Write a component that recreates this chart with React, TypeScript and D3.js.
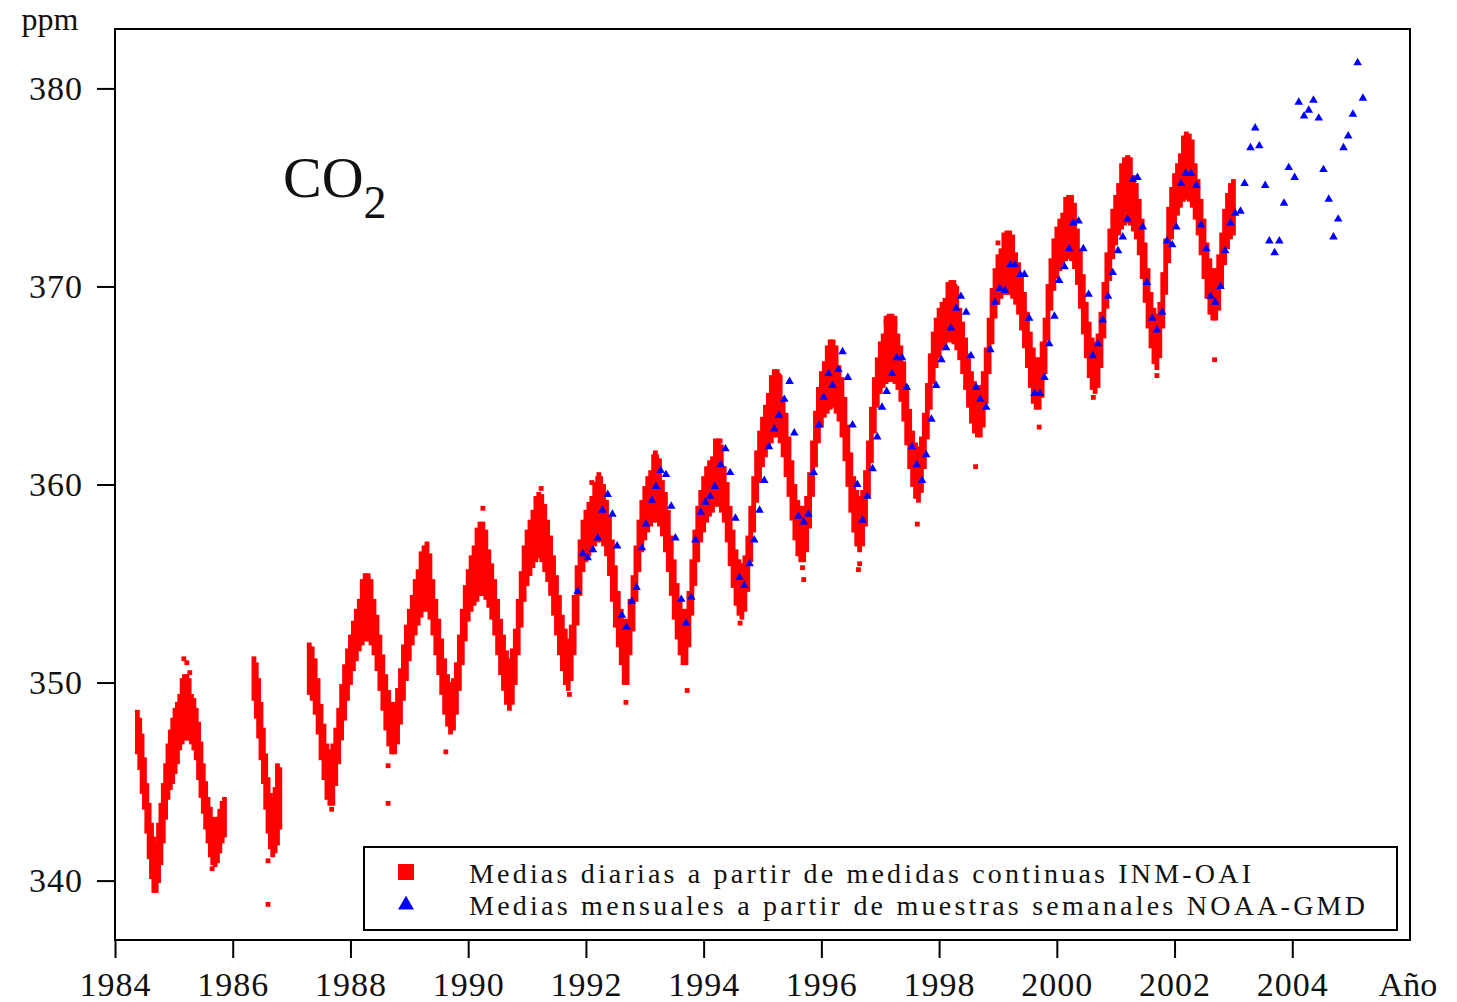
import { useEffect, useRef } from "react";
import * as d3 from "d3";

// daily means INM-OAI: [year, low, high] of the daily scatter around each date
const daily1984 = [
  [1984.38, 346.5, 348.5], [1984.42, 345.7, 348.1], [1984.46, 344.5, 347.3], [1984.50, 343.7, 346.1],
  [1984.54, 342.5, 344.8], [1984.58, 341.2, 343.8], [1984.62, 340.2, 342.8], [1984.66, 339.5, 342.1],
  [1984.70, 339.5, 341.8], [1984.74, 340.0, 342.8], [1984.78, 340.9, 343.8], [1984.82, 342.0, 344.8],
  [1984.86, 343.2, 345.8], [1984.90, 344.2, 346.8], [1984.94, 344.7, 347.5], [1984.98, 345.0, 348.1],
  [1985.02, 345.5, 348.6], [1985.06, 346.0, 348.9], [1985.10, 346.7, 349.3], [1985.14, 347.0, 350.1],
  [1985.18, 347.2, 350.3], [1985.22, 347.2, 350.3], [1985.26, 347.2, 350.1], [1985.30, 347.0, 349.3],
  [1985.34, 346.7, 349.1], [1985.38, 346.2, 348.6], [1985.42, 345.2, 347.9], [1985.46, 344.3, 346.9],
  [1985.50, 343.5, 345.8], [1985.54, 342.7, 344.9], [1985.58, 342.0, 344.1], [1985.62, 341.3, 343.6],
  [1985.66, 340.9, 343.1], [1985.70, 340.8, 342.9], [1985.74, 341.0, 343.1], [1985.78, 341.5, 343.5],
  [1985.82, 342.0, 343.9], [1985.86, 342.3, 344.1],
];

const daily1986 = [
  [1986.36, 349.2, 351.2], [1986.40, 348.3, 350.9], [1986.44, 347.3, 350.1], [1986.48, 346.2, 348.9],
  [1986.52, 345.0, 347.6], [1986.56, 343.7, 346.3], [1986.60, 342.5, 345.1], [1986.64, 341.7, 344.3],
  [1986.68, 341.3, 344.1], [1986.72, 341.5, 344.6], [1986.76, 341.9, 345.8], [1986.80, 342.7, 345.6],
];

const daily1987 = [
  [1987.30, 349.5, 351.9], [1987.35, 349.2, 351.7], [1987.40, 348.5, 351.1], [1987.45, 347.5, 350.1],
  [1987.50, 346.2, 348.8], [1987.55, 345.2, 347.8], [1987.60, 344.2, 346.8], [1987.65, 343.9, 346.5],
  [1987.70, 344.1, 346.8], [1987.75, 344.9, 347.6], [1987.80, 346.0, 348.6], [1987.85, 347.2, 349.8],
  [1987.90, 348.2, 350.8], [1987.95, 349.2, 351.6], [1988.00, 350.0, 352.3], [1988.05, 350.7, 353.0],
  [1988.10, 351.2, 353.6], [1988.15, 351.7, 354.1], [1988.20, 352.0, 355.1], [1988.25, 352.2, 355.4],
  [1988.30, 352.2, 355.4], [1988.35, 352.0, 355.1], [1988.40, 351.5, 354.1], [1988.45, 350.7, 353.3],
  [1988.50, 349.7, 352.3], [1988.55, 348.7, 351.3], [1988.60, 347.7, 350.3], [1988.65, 346.9, 349.5],
  [1988.70, 346.5, 348.9], [1988.75, 346.5, 348.9], [1988.80, 347.0, 349.6], [1988.85, 348.0, 350.6],
  [1988.90, 349.2, 351.8], [1988.95, 350.2, 352.8], [1989.00, 351.2, 353.6], [1989.05, 352.0, 354.3],
  [1989.10, 352.5, 355.1], [1989.15, 353.0, 355.6], [1989.20, 353.4, 356.5], [1989.25, 353.7, 356.8],
  [1989.30, 353.7, 356.8], [1989.35, 353.3, 356.4], [1989.40, 352.5, 355.1], [1989.45, 351.5, 354.1],
  [1989.50, 350.5, 353.1], [1989.55, 349.5, 352.1], [1989.60, 348.5, 351.1], [1989.65, 347.9, 350.3],
  [1989.70, 347.5, 349.9], [1989.75, 347.7, 350.1], [1989.80, 348.5, 350.9], [1989.85, 349.7, 352.3],
  [1989.90, 351.0, 353.6], [1989.95, 352.2, 354.8],
];

const daily1990 = [
  [1990.00, 353.2, 355.6], [1990.05, 353.7, 356.3], [1990.10, 354.0, 356.8], [1990.15, 354.2, 357.7],
  [1990.20, 354.5, 358.0], [1990.25, 354.5, 358.0], [1990.30, 354.3, 357.6], [1990.35, 353.9, 356.6],
  [1990.40, 353.3, 355.9], [1990.45, 352.5, 355.1], [1990.50, 351.5, 354.1], [1990.55, 350.5, 353.1],
  [1990.60, 349.7, 352.3], [1990.65, 349.0, 351.5], [1990.70, 348.7, 351.1], [1990.75, 349.0, 351.6],
  [1990.80, 350.0, 352.6], [1990.85, 351.5, 354.1], [1990.90, 352.9, 355.5], [1990.95, 354.2, 356.8],
  [1991.00, 355.0, 357.6], [1991.05, 355.5, 358.1], [1991.10, 355.9, 358.6], [1991.15, 356.2, 359.3],
  [1991.20, 356.4, 359.5], [1991.25, 356.2, 359.4], [1991.30, 355.7, 358.9], [1991.35, 355.2, 358.1],
  [1991.40, 354.5, 357.3], [1991.45, 353.5, 356.3], [1991.50, 352.5, 355.3], [1991.55, 351.5, 354.3],
  [1991.60, 350.7, 353.3], [1991.65, 350.0, 352.6], [1991.70, 349.7, 352.1], [1991.75, 350.2, 352.8],
  [1991.80, 351.5, 354.3], [1991.85, 353.0, 355.8], [1991.90, 354.5, 357.1], [1991.95, 355.7, 358.1],
  [1992.00, 356.2, 358.6], [1992.05, 356.5, 359.0], [1992.10, 356.7, 359.3], [1992.15, 357.0, 360.0],
  [1992.20, 357.2, 360.3], [1992.25, 357.2, 360.3], [1992.30, 357.0, 359.9], [1992.35, 356.5, 359.1],
  [1992.40, 355.5, 358.3], [1992.45, 354.2, 357.1], [1992.50, 352.9, 355.8], [1992.55, 351.9, 354.5],
  [1992.60, 351.0, 353.6], [1992.65, 350.0, 353.1], [1992.70, 350.0, 353.1], [1992.75, 351.5, 354.1],
  [1992.80, 352.7, 355.3], [1992.85, 354.2, 356.8], [1992.90, 355.7, 358.1], [1992.95, 356.7, 359.1],
];

const daily1993 = [
  [1993.00, 357.3, 359.8], [1993.05, 357.7, 360.3], [1993.10, 358.0, 360.6], [1993.15, 358.2, 361.4],
  [1993.20, 358.2, 361.4], [1993.25, 358.0, 361.2], [1993.30, 357.5, 360.1], [1993.35, 356.7, 359.5],
  [1993.40, 355.7, 358.6], [1993.45, 354.5, 357.3], [1993.50, 353.3, 356.1], [1993.55, 352.3, 354.9],
  [1993.60, 351.5, 354.1], [1993.65, 351.0, 353.6], [1993.70, 351.0, 353.6], [1993.75, 351.9, 354.5],
  [1993.80, 353.5, 356.1], [1993.85, 355.0, 357.6], [1993.90, 356.2, 358.8], [1993.95, 357.2, 359.6],
  [1994.00, 357.7, 360.3], [1994.05, 358.2, 360.8], [1994.10, 358.5, 361.1], [1994.15, 358.7, 361.3],
  [1994.20, 359.0, 362.2], [1994.25, 359.0, 362.2], [1994.30, 358.7, 361.9], [1994.35, 358.2, 360.8],
  [1994.40, 357.2, 360.0], [1994.45, 356.0, 358.8], [1994.50, 354.9, 357.6], [1994.55, 354.0, 356.6],
  [1994.60, 353.5, 356.1], [1994.65, 353.3, 355.9], [1994.70, 353.7, 356.3], [1994.75, 354.7, 357.3],
  [1994.80, 356.2, 358.8], [1994.85, 357.7, 360.3], [1994.90, 359.2, 361.6], [1994.95, 360.2, 362.6],
  [1995.00, 361.0, 363.3], [1995.05, 361.5, 363.9], [1995.10, 361.9, 364.5], [1995.15, 362.2, 365.4],
  [1995.20, 362.5, 365.7], [1995.25, 362.5, 365.7], [1995.30, 362.2, 365.4], [1995.35, 361.5, 364.3],
  [1995.40, 360.5, 363.5], [1995.45, 359.5, 362.3], [1995.50, 358.3, 361.1], [1995.55, 357.3, 359.9],
  [1995.60, 356.5, 359.1], [1995.65, 356.2, 358.8], [1995.70, 356.2, 358.8], [1995.75, 356.7, 359.3],
  [1995.80, 357.9, 360.5], [1995.85, 359.5, 362.1], [1995.90, 361.0, 363.6], [1995.95, 362.2, 364.8],
];

const daily1996 = [
  [1996.00, 363.0, 365.6], [1996.05, 363.5, 366.1], [1996.10, 363.7, 366.9], [1996.15, 363.9, 367.2],
  [1996.20, 364.0, 367.2], [1996.25, 363.7, 366.9], [1996.30, 363.3, 365.9], [1996.35, 362.5, 365.3],
  [1996.40, 361.3, 364.3], [1996.45, 360.0, 362.9], [1996.50, 358.7, 361.5], [1996.55, 357.7, 360.3],
  [1996.60, 357.0, 359.6], [1996.65, 356.7, 359.3], [1996.70, 357.0, 359.6], [1996.75, 358.0, 360.6],
  [1996.80, 359.5, 362.1], [1996.85, 361.2, 363.8], [1996.90, 362.7, 365.3], [1996.95, 364.0, 366.3],
  [1997.00, 364.7, 367.1], [1997.05, 365.0, 367.5], [1997.10, 365.2, 368.4], [1997.15, 365.3, 368.5],
  [1997.20, 365.3, 368.5], [1997.25, 365.2, 368.4], [1997.30, 364.9, 367.5], [1997.35, 364.3, 366.9],
  [1997.40, 363.3, 366.1], [1997.45, 362.1, 364.9], [1997.50, 360.9, 363.7], [1997.55, 360.0, 362.6],
  [1997.60, 359.4, 362.0], [1997.65, 359.2, 361.8], [1997.70, 359.7, 362.3], [1997.75, 360.9, 363.5],
  [1997.80, 362.4, 365.0], [1997.85, 363.9, 366.5], [1997.90, 365.2, 367.6], [1997.95, 366.0, 368.3],
  [1998.00, 366.5, 368.8], [1998.05, 366.9, 369.1], [1998.10, 367.1, 369.3], [1998.15, 367.3, 370.1],
  [1998.20, 367.3, 370.2], [1998.25, 367.2, 370.2], [1998.30, 366.9, 369.9], [1998.35, 366.4, 368.8],
  [1998.40, 365.7, 368.1], [1998.45, 364.9, 367.3], [1998.50, 364.0, 366.5], [1998.55, 363.2, 365.6],
  [1998.60, 362.7, 365.1], [1998.65, 362.5, 364.9], [1998.70, 362.5, 364.9], [1998.75, 363.0, 365.6],
  [1998.80, 364.2, 366.8], [1998.85, 365.7, 368.3], [1998.90, 367.2, 369.8], [1998.95, 368.5, 370.8],
];

const daily1999 = [
  [1999.00, 369.2, 371.5], [1999.05, 369.5, 371.8], [1999.10, 369.7, 372.6], [1999.15, 369.7, 372.7],
  [1999.20, 369.7, 372.7], [1999.25, 369.5, 372.5], [1999.30, 369.2, 371.6], [1999.35, 368.7, 371.1],
  [1999.40, 367.9, 370.5], [1999.45, 367.0, 369.6], [1999.50, 366.0, 368.6], [1999.55, 365.0, 367.6],
  [1999.60, 364.2, 366.8], [1999.65, 363.9, 366.3], [1999.70, 363.9, 366.3], [1999.75, 364.5, 367.1],
  [1999.80, 365.7, 368.3], [1999.85, 367.4, 370.0], [1999.90, 368.9, 371.3], [1999.95, 369.9, 372.3],
  [2000.00, 370.5, 372.9], [2000.05, 370.9, 373.3], [2000.10, 371.2, 373.6], [2000.15, 371.4, 374.4],
  [2000.20, 371.5, 374.5], [2000.25, 371.4, 374.5], [2000.30, 371.0, 374.1], [2000.35, 370.2, 372.8],
  [2000.40, 369.0, 371.8], [2000.45, 367.7, 370.5], [2000.50, 366.5, 369.1], [2000.55, 365.5, 368.1],
  [2000.60, 364.9, 367.3], [2000.65, 364.7, 367.1], [2000.70, 365.0, 367.5], [2000.75, 366.0, 368.6],
  [2000.80, 367.5, 370.1], [2000.85, 369.0, 371.6], [2000.90, 370.4, 372.8], [2000.95, 371.5, 373.8],
  [2001.00, 372.2, 374.5], [2001.05, 372.7, 375.1], [2001.10, 373.0, 376.1], [2001.15, 373.2, 376.4],
  [2001.20, 373.3, 376.5], [2001.25, 373.2, 376.4], [2001.30, 372.9, 375.5], [2001.35, 372.5, 375.1],
  [2001.40, 371.7, 374.3], [2001.45, 370.5, 373.3], [2001.50, 369.3, 372.1], [2001.55, 368.0, 370.8],
  [2001.60, 367.0, 369.6], [2001.65, 366.2, 368.8], [2001.70, 365.9, 368.5], [2001.75, 366.5, 369.1],
  [2001.80, 368.0, 370.6], [2001.85, 369.7, 372.3], [2001.90, 371.3, 373.9], [2001.95, 372.5, 374.9],
  [2002.00, 373.2, 375.6], [2002.05, 373.7, 376.1], [2002.10, 374.1, 376.6], [2002.15, 374.4, 377.5],
  [2002.20, 374.5, 377.7], [2002.25, 374.4, 377.6], [2002.30, 374.1, 377.3], [2002.35, 373.5, 376.1],
  [2002.40, 372.7, 375.3], [2002.45, 371.7, 374.3], [2002.50, 370.5, 373.3], [2002.55, 369.5, 372.1],
  [2002.60, 368.7, 371.3], [2002.65, 368.4, 370.8], [2002.70, 368.4, 370.8], [2002.75, 368.9, 371.5],
  [2002.80, 370.0, 372.6], [2002.85, 371.2, 373.8], [2002.90, 372.0, 374.6], [2002.95, 372.5, 375.1],
  [2003.00, 372.7, 375.3],
];

// isolated daily values away from the main band
const dailyOutliers = [
  [1985.17, 351.2], [1985.22, 351.0], [1985.27, 350.5], [1985.25, 350.0], [1985.65, 340.6],
  [1986.60, 341.0], [1986.60, 338.8], [1987.68, 343.6], [1987.70, 343.9], [1988.30, 355.2],
  [1988.64, 345.8], [1988.64, 343.9], [1989.30, 357.0], [1989.62, 346.5], [1990.25, 358.8],
  [1991.24, 359.8], [1991.72, 349.4], [1992.22, 360.5], [1992.10, 360.1], [1992.68, 349.0],
  [1993.18, 361.6], [1993.72, 349.6], [1994.28, 362.2], [1994.62, 353.0], [1995.28, 365.5],
  [1995.70, 355.2], [1995.68, 355.8], [1996.18, 366.9], [1996.63, 355.7], [1996.65, 356.0],
  [1997.10, 368.2], [1997.25, 368.1], [1997.63, 358.0], [1998.27, 370.0], [1998.62, 360.9],
  [1999.00, 372.2], [1999.70, 362.9], [2000.26, 374.0], [2000.62, 364.4], [2001.21, 376.5],
  [2001.15, 376.2], [2001.70, 365.5], [2002.22, 377.4], [2002.25, 377.0], [2002.68, 366.3],
];

// monthly means NOAA-GMD weekly flasks: [year, ppm]
const monthlyNoaa = [
  [1991.86, 354.6], [1991.95, 356.5], [1992.03, 356.3], [1992.12, 356.7], [1992.20, 357.3],
  [1992.28, 358.7], [1992.37, 359.5], [1992.45, 358.5], [1992.53, 356.9], [1992.61, 353.4],
  [1992.69, 352.8], [1992.78, 354.1], [1992.86, 354.8], [1992.95, 356.8], [1993.02, 358.0],
  [1993.12, 359.2], [1993.19, 359.9], [1993.27, 360.7], [1993.36, 360.5], [1993.45, 358.9],
  [1993.52, 357.3], [1993.62, 354.2], [1993.70, 353.0], [1993.79, 354.3], [1993.86, 357.2],
  [1993.95, 358.6], [1994.03, 359.1], [1994.11, 359.4], [1994.19, 359.9], [1994.29, 361.0],
  [1994.37, 361.8], [1994.45, 360.6], [1994.54, 358.3], [1994.61, 355.3], [1994.69, 354.9],
  [1994.78, 356.0], [1994.86, 357.2], [1994.95, 358.7], [1995.03, 360.2], [1995.11, 361.9],
  [1995.20, 362.8], [1995.28, 363.5], [1995.37, 364.3], [1995.46, 365.2], [1995.54, 362.6],
  [1995.61, 358.4], [1995.70, 358.1], [1995.78, 358.5], [1995.87, 360.6], [1995.96, 363.0],
  [1996.04, 364.4], [1996.12, 365.6], [1996.19, 365.0], [1996.29, 365.8], [1996.36, 366.7],
  [1996.45, 365.4], [1996.53, 363.0], [1996.61, 360.0], [1996.70, 358.2], [1996.78, 359.4],
  [1996.87, 360.8], [1996.95, 362.4], [1997.03, 363.9], [1997.11, 364.7], [1997.20, 365.6],
  [1997.28, 366.4], [1997.37, 366.4], [1997.45, 364.9], [1997.54, 361.9], [1997.62, 361.0],
  [1997.71, 360.2], [1997.78, 361.5], [1997.87, 363.3], [1997.95, 365.0], [1998.04, 366.3],
  [1998.12, 366.9], [1998.20, 367.9], [1998.29, 368.9], [1998.37, 369.5], [1998.46, 368.7],
  [1998.54, 366.5], [1998.63, 364.9], [1998.70, 364.3], [1998.80, 363.9], [1998.87, 366.8],
  [1998.95, 369.2], [1999.03, 369.9], [1999.12, 369.8], [1999.21, 371.1], [1999.29, 371.1],
  [1999.38, 370.6], [1999.45, 370.6], [1999.53, 368.4], [1999.62, 364.6], [1999.71, 364.6],
  [1999.79, 365.4], [1999.87, 367.1], [1999.96, 368.5], [2000.04, 370.3], [2000.13, 371.0],
  [2000.21, 371.9], [2000.28, 373.2], [2000.37, 373.3], [2000.45, 371.9], [2000.54, 369.6],
  [2000.61, 366.5], [2000.70, 367.1], [2000.78, 368.3], [2000.87, 369.5], [2000.95, 370.7],
  [2001.04, 371.8], [2001.12, 372.5], [2001.20, 373.4], [2001.29, 375.4], [2001.37, 375.5],
  [2001.46, 373.0], [2001.53, 370.2], [2001.62, 368.4], [2001.70, 367.8], [2001.79, 368.7],
  [2001.87, 372.3], [2001.96, 372.1], [2002.03, 373.0], [2002.11, 375.2], [2002.19, 375.7],
  [2002.28, 375.7], [2002.37, 375.1], [2002.45, 373.1], [2002.54, 371.9], [2002.61, 369.5],
  [2002.69, 369.2], [2002.78, 370.0], [2002.86, 371.8], [2002.95, 373.2], [2003.03, 373.7],
  [2003.12, 373.8], [2003.19, 375.2], [2003.29, 377.0], [2003.37, 378.0], [2003.44, 377.1],
  [2003.54, 375.1], [2003.61, 372.3], [2003.70, 371.7], [2003.78, 372.3], [2003.86, 374.2],
  [2003.94, 376.0], [2004.04, 375.5], [2004.11, 379.3], [2004.20, 378.6], [2004.28, 378.9],
  [2004.36, 379.4], [2004.45, 378.5], [2004.53, 375.9], [2004.62, 374.4], [2004.70, 372.5],
  [2004.78, 373.4], [2004.87, 377.0], [2004.95, 377.6], [2005.03, 378.7], [2005.11, 381.3],
  [2005.20, 379.5],
];

const yTicks = [340, 350, 360, 370, 380];
const xTicks = [1984, 1986, 1988, 1990, 1992, 1994, 1996, 1998, 2000, 2002, 2004];
const legendLabels = [
  "Medias diarias a partir de medidas continuas INM-OAI",
  "Medias mensuales a partir de muestras semanales NOAA-GMD",
];

const App = () => {
  const ref = useRef<SVGSVGElement | null>(null);

  useEffect(() => {
    document.body.style.margin = "0";
    const svg = d3.select(ref.current);
    svg.selectAll("*").remove();

    const font = "'Liberation Serif', 'Times New Roman', serif";
    const red = "#ff0000";
    const blue = "#0000ff";

    const x = d3.scaleLinear().domain([1984, 2006]).range([115, 1410]);
    const y = d3.scaleLinear().domain([337, 383]).range([940, 29]);

    // axes
    const yAxis = svg.append("g")
      .attr("transform", "translate(115,0)")
      .call(d3.axisLeft(y).tickValues(yTicks).tickSize(18).tickPadding(14));
    yAxis.select(".domain").remove();
    yAxis.selectAll("line").attr("stroke", "#000").attr("stroke-width", 2);
    yAxis.selectAll("text")
      .attr("font-family", font)
      .attr("font-size", 34)
      .attr("letter-spacing", 1)
      .attr("fill", "#111");

    const xAxis = svg.append("g")
      .attr("transform", "translate(0,940)")
      .call(d3.axisBottom(x).tickValues(xTicks).tickFormat(d3.format("d")).tickSize(18).tickPadding(14));
    xAxis.select(".domain").remove();
    xAxis.selectAll("line").attr("stroke", "#000").attr("stroke-width", 2);
    xAxis.selectAll("text")
      .attr("font-family", font)
      .attr("font-size", 34)
      .attr("letter-spacing", 1)
      .attr("fill", "#111");

    svg.append("text")
      .attr("x", 1408)
      .attr("y", 996)
      .attr("text-anchor", "middle")
      .attr("font-family", font)
      .attr("font-size", 34)
      .attr("fill", "#111")
      .text("Año");

    svg.append("text")
      .attr("x", 50)
      .attr("y", 30)
      .attr("text-anchor", "middle")
      .attr("font-family", font)
      .attr("font-size", 32)
      .attr("fill", "#111")
      .text("ppm");

    // plot frame
    svg.append("rect")
      .attr("x", 115)
      .attr("y", 29)
      .attr("width", 1295)
      .attr("height", 911)
      .attr("fill", "none")
      .attr("stroke", "#000")
      .attr("stroke-width", 2);

    // CO2 label
    const co2 = svg.append("text")
      .attr("x", 283)
      .attr("y", 197)
      .attr("font-family", font)
      .attr("fill", "#111");
    co2.append("tspan").attr("font-size", 58).text("CO");
    co2.append("tspan").attr("font-size", 46).attr("dy", 21).text("2");

    // daily means: band of daily scatter per date
    const half = 2.4;
    const dailyAll = [daily1984, daily1986, daily1987, daily1990, daily1993, daily1996, daily1999];
    const dailyG = svg.append("g").attr("fill", red);
    dailyAll.forEach(seg => {
      dailyG.selectAll(null)
        .data(seg)
        .enter()
        .append("rect")
        .attr("x", d => x(d[0]) - half)
        .attr("width", half * 2)
        .attr("y", d => y(d[2]) - half)
        .attr("height", d => y(d[1]) - y(d[2]) + half * 2);
    });
    dailyG.selectAll(null)
      .data(dailyOutliers)
      .enter()
      .append("rect")
      .attr("x", d => x(d[0]) - half)
      .attr("y", d => y(d[1]) - half)
      .attr("width", half * 2)
      .attr("height", half * 2);

    // monthly means
    const tri = d3.symbol().type(d3.symbolTriangle).size(32);
    svg.append("g")
      .selectAll("path")
      .data(monthlyNoaa)
      .enter()
      .append("path")
      .attr("d", tri)
      .attr("transform", d => `translate(${x(d[0])},${y(d[1])})`)
      .attr("fill", blue);

    // legend
    const legend = svg.append("g");
    legend.append("rect")
      .attr("x", 364)
      .attr("y", 847)
      .attr("width", 1033)
      .attr("height", 83)
      .attr("fill", "#fff")
      .attr("stroke", "#000")
      .attr("stroke-width", 2);
    legend.append("rect")
      .attr("x", 398)
      .attr("y", 864)
      .attr("width", 16)
      .attr("height", 16)
      .attr("fill", red);
    legend.append("path")
      .attr("d", d3.symbol().type(d3.symbolTriangle).size(110)())
      .attr("transform", "translate(406,905)")
      .attr("fill", blue);
    const legendWidths = [782, 896];
    legendLabels.forEach((label, i) => {
      legend.append("text")
        .attr("x", 469)
        .attr("y", 883 + i * 32)
        .attr("font-family", font)
        .attr("font-size", 28)
        .attr("fill", "#111")
        .attr("textLength", legendWidths[i])
        .attr("lengthAdjust", "spacing")
        .text(label);
    });
  }, []);

  return <svg ref={ref} width={1457} height={1002} style={{ display: "block", background: "#fff" }} />;
};

export default App;
